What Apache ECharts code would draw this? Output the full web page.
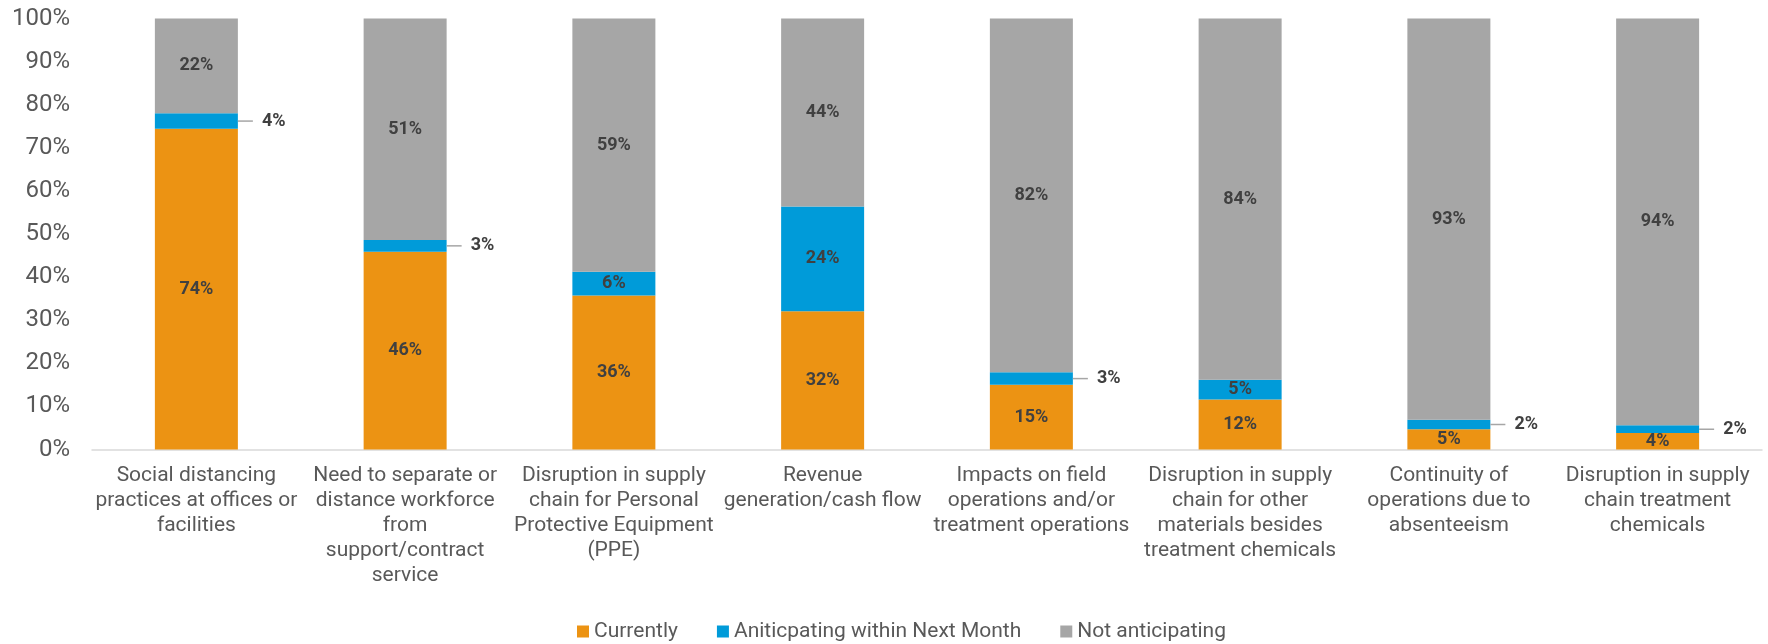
<!DOCTYPE html>
<html>
<head>
    <meta charset="UTF-8">
    <title>Operational impacts</title>
    <script src="https://cdn.jsdelivr.net/npm/echarts@6/dist/echarts.min.js"></script>
    <style type="text/css">
    * { margin: 0; padding: 0; }
    body { background-color: #ffffff; }
    #chart { width: 1768px; height: 644px; }
    </style>
</head>
<body>
    <div id="chart"></div>
    <script>
        // categories (line breaks as in the original)
        var categories = [
            'Social distancing\npractices at offices or\nfacilities',
            'Need to separate or\ndistance workforce\nfrom\nsupport/contract\nservice',
            'Disruption in supply\nchain for Personal\nProtective Equipment\n(PPE)',
            'Revenue\ngeneration/cash flow',
            'Impacts on field\noperations and/or\ntreatment operations',
            'Disruption in supply\nchain for other\nmaterials besides\ntreatment chemicals',
            'Continuity of\noperations due to\nabsenteeism',
            'Disruption in supply\nchain treatment\nchemicals'
        ];
        // percentages
        var currently    = [74.4, 45.9, 35.75, 32.1, 15.0, 11.6, 4.7, 3.8];
        var anticipating = [3.6, 2.7, 5.5, 24.3, 2.9, 4.6, 2.2, 1.8];
        var notAnticip   = [22.0, 51.4, 58.75, 43.6, 82.1, 83.8, 93.1, 94.4];
        // blue labels that sit outside the bar, with a leader line
        var outsideIdx = [0, 1, 4, 6, 7];

        var labelFmt = function (p) { return Math.round(p.value) + '%'; };
        var labelStyle = {
            show: true,
            formatter: labelFmt,
            color: '#404040',
            fontFamily: 'Roboto',
            fontWeight: 'bold',
            fontSize: 18
        };

        // outside labels: short grey leader, small gap, then the value
        var blueData = anticipating.map(function (v, i) {
            if (outsideIdx.indexOf(i) < 0) return v;
            return {
                value: v,
                label: {
                    position: 'right',
                    distance: 0,
                    formatter: function (p) { return '{ln|}{sp|}' + Math.round(p.value) + '%'; },
                    rich: {
                        ln: { width: 15, height: 1.5, backgroundColor: '#a6a6a6' },
                        sp: { width: 9 }
                    }
                }
            };
        });

        var chart = echarts.init(document.getElementById('chart'), null, {renderer: 'canvas'});
        chart.setOption({
            animation: false,
            textStyle: { fontFamily: 'Roboto' },
            grid: { left: 92, right: 6, top: 18.5, bottom: 194.5 },
            legend: {
                left: 572,
                top: 616,
                itemWidth: 12,
                itemHeight: 12,
                itemGap: 39,
                icon: 'rect',
                textStyle: { color: '#595959', fontSize: 21, fontFamily: 'Roboto' },
                data: ['Currently', 'Aniticpating within Next Month', 'Not anticipating']
            },
            xAxis: {
                type: 'category',
                data: categories,
                axisLine: { lineStyle: { color: '#d9d9d9', width: 1.5 } },
                axisTick: { show: false },
                axisLabel: {
                    interval: 0,
                    margin: 14,
                    color: '#595959',
                    fontSize: 21,
                    lineHeight: 25,
                    align: 'center'
                }
            },
            yAxis: {
                type: 'value',
                min: 0,
                max: 100,
                interval: 10,
                splitLine: { show: false },
                axisLine: { show: false },
                axisTick: { show: false },
                axisLabel: {
                    margin: 22,
                    color: '#595959',
                    fontSize: 24,
                    formatter: '{value}%'
                }
            },
            series: [
                {
                    name: 'Currently',
                    type: 'bar',
                    stack: 'all',
                    barWidth: 83,
                    itemStyle: { color: '#ec9313' },
                    label: Object.assign({ position: 'inside' }, labelStyle),
                    data: currently
                },
                {
                    name: 'Aniticpating within Next Month',
                    type: 'bar',
                    stack: 'all',
                    barWidth: 83,
                    itemStyle: { color: '#009bd9' },
                    label: Object.assign({ position: 'inside' }, labelStyle),
                    data: blueData
                },
                {
                    name: 'Not anticipating',
                    type: 'bar',
                    stack: 'all',
                    barWidth: 83,
                    itemStyle: { color: '#a6a6a6' },
                    label: Object.assign({ position: 'inside' }, labelStyle),
                    data: notAnticip
                }
            ]
        });
    </script>
</body>
</html>
